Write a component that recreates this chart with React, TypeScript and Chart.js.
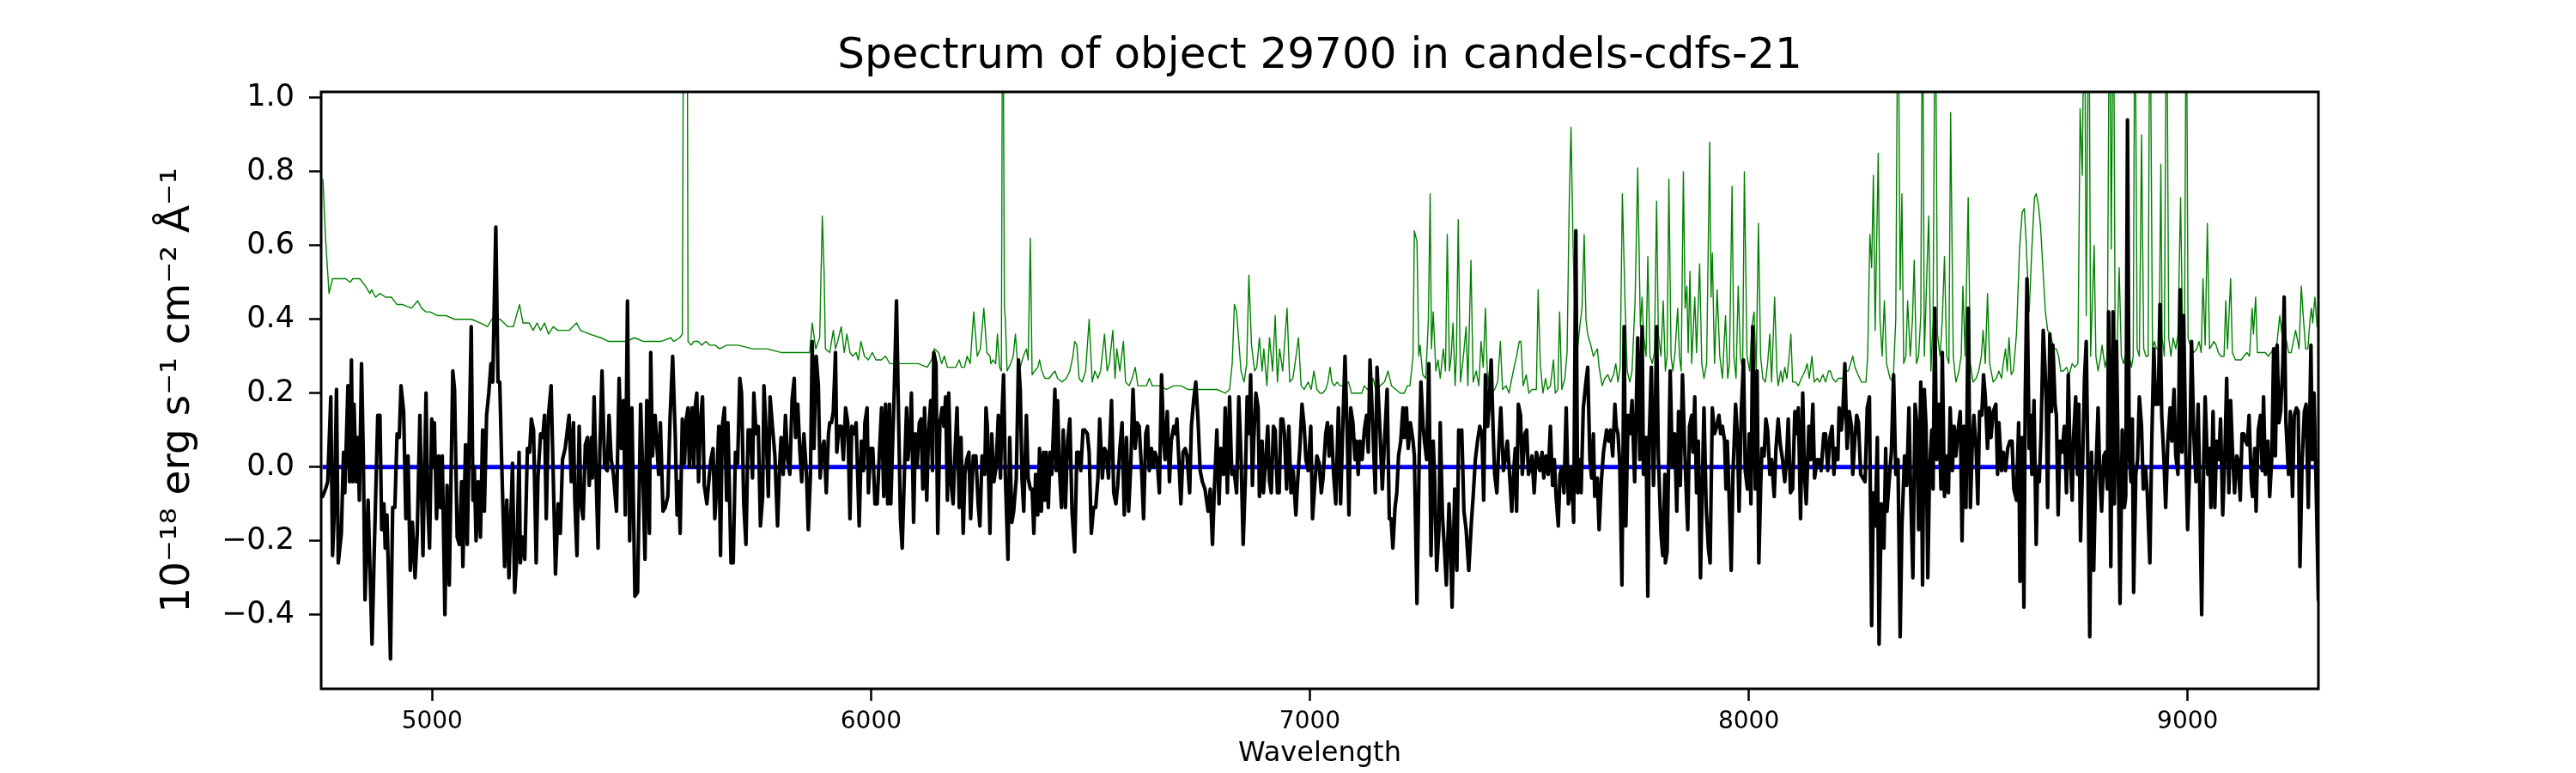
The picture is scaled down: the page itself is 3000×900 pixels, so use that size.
import { useEffect, useRef } from "react";
import Chart from "chart.js/auto";

const titleText = "Spectrum of object 29700 in candels-cdfs-21";
const xLabel = "Wavelength";
const yLabel = "10\u207B\u00B9\u2078 erg s\u207B\u00B9 cm\u207B\u00B2 \u00C5\u207B\u00B9";
const xTicks = [5000, 6000, 7000, 8000, 9000];
const yTicks = [-0.4, -0.2, 0.0, 0.2, 0.4, 0.6, 0.8, 1.0];

// observed flux [wavelength, flux]
const observed: [number, number][] = [
  [4750,-0.08],[4757,-0.06],[4762,-0.04],[4769,0.19],[4773,-0.24],[4777,-0.12],[4782,0.21],[4786,-0.26],[4793,-0.18],[4798,0.04],
  [4801,-0.07],[4808,0.22],[4812,-0.04],[4816,0.29],[4819,-0.04],[4822,0.17],[4827,-0.04],[4831,0.08],[4834,-0.09],[4839,0.28],
  [4843,0.04],[4847,-0.36],[4854,-0.09],[4863,-0.48],[4868,-0.23],[4876,0.14],[4881,0.14],[4885,-0.17],[4890,-0.10],[4893,-0.22],
  [4897,-0.13],[4905,-0.52],[4910,-0.11],[4915,-0.11],[4920,0.09],[4925,0.08],[4929,0.22],[4935,0.15],[4940,-0.14],[4945,0.03],
  [4950,-0.28],[4955,-0.15],[4961,-0.30],[4966,-0.18],[4972,0.14],[4979,-0.24],[4986,0.20],[4989,-0.07],[4994,-0.22],[4999,0.13],
  [5002,0.00],[5005,0.12],[5010,-0.14],[5015,0.03],[5019,-0.11],[5023,0.03],[5029,-0.40],[5034,-0.05],[5039,-0.32],[5047,0.26],
  [5051,0.21],[5057,-0.19],[5062,-0.21],[5067,-0.04],[5070,-0.27],[5076,0.06],[5080,-0.21],[5089,0.38],[5093,-0.09],[5096,0.00],
  [5100,-0.20],[5105,-0.04],[5110,-0.19],[5115,0.10],[5119,-0.12],[5124,0.14],[5129,0.20],[5134,0.28],[5138,0.23],[5145,0.65],
  [5150,0.23],[5154,0.23],[5158,0.03],[5165,-0.27],[5170,-0.09],[5175,-0.30],[5183,0.01],[5188,-0.34],[5193,-0.24],[5198,0.04],
  [5201,-0.26],[5206,-0.19],[5211,-0.25],[5217,0.05],[5222,0.04],[5226,0.13],[5231,0.10],[5237,-0.26],[5241,-0.03],[5247,0.09],
  [5252,0.08],[5256,0.14],[5260,-0.14],[5265,0.14],[5271,0.22],[5276,-0.03],[5281,-0.29],[5287,-0.10],[5292,-0.18],[5297,0.02],
  [5303,0.05],[5307,0.09],[5312,0.14],[5317,-0.04],[5322,0.12],[5325,-0.09],[5330,-0.24],[5335,0.11],[5339,-0.10],[5344,-0.14],
  [5349,0.06],[5354,0.08],[5358,-0.05],[5363,0.08],[5365,-0.03],[5369,0.19],[5374,-0.04],[5378,-0.22],[5382,0.04],[5387,0.26],
  [5393,0.00],[5399,-0.01],[5403,0.14],[5408,0.02],[5413,-0.02],[5420,-0.12],[5426,0.24],[5431,0.05],[5436,0.18],[5440,-0.13],
  [5445,0.45],[5450,-0.20],[5455,0.16],[5462,-0.35],[5468,-0.34],[5475,0.17],[5480,-0.02],[5485,-0.25],[5489,0.18],[5495,-0.18],
  [5498,0.31],[5502,0.03],[5508,0.14],
  [5516,-0.02],[5520,0.12],[5526,-0.12],[5531,-0.11],[5537,-0.08],[5542,0.13],[5548,0.30],[5554,0.08],[5558,-0.13],[5562,-0.04],
  [5565,-0.18],[5570,0.13],[5575,0.01],[5579,0.13],[5583,0.16],[5586,0.00],[5592,0.16],[5596,0.00],[5599,0.16],[5603,0.20],
  [5607,-0.04],[5611,0.12],[5616,0.19],[5620,-0.05],[5626,-0.10],[5631,-0.03],[5635,0.02],[5640,0.05],[5644,-0.14],[5648,-0.06],
  [5653,0.11],[5657,-0.24],[5661,0.11],[5666,0.16],[5671,-0.09],[5674,0.12],[5681,-0.26],[5686,-0.26],[5691,0.04],[5696,0.01],
  [5701,0.24],[5705,0.20],[5710,-0.10],[5715,-0.21],[5720,0.10],[5725,0.10],[5730,-0.03],[5733,0.20],[5738,0.09],[5743,0.11],
  [5748,-0.16],[5753,-0.08],[5756,0.22],[5761,0.09],[5766,-0.08],[5770,0.19],[5776,0.10],[5781,0.03],[5787,-0.16],[5792,0.01],
  [5795,0.08],[5800,-0.02],[5805,0.14],[5810,0.02],[5815,-0.02],[5820,0.18],[5825,0.24],[5828,0.08],[5833,0.17],[5838,0.04],
  [5842,-0.04],[5847,0.09],[5853,-0.02],[5857,-0.17],[5862,-0.02],[5866,0.34],[5870,0.05],[5875,0.30],[5880,0.22],[5884,-0.03],
  [5889,0.05],[5893,0.07],[5898,-0.07],[5903,0.09],[5906,0.12],[5910,0.12],[5914,0.15],[5919,0.31],[5922,0.04],[5927,0.11],
  [5932,0.11],[5937,0.02],[5942,0.16],[5947,0.12],[5952,-0.14],[5956,0.11],[5962,0.09],[5966,0.12],[5973,-0.16],[5978,0.07],
  [5983,-0.01],[5986,0.12],[5991,0.16],[5994,-0.07],[5999,0.05],[6004,0.05],[6009,-0.10],[6014,-0.10],[6018,0.01],[6024,0.16],
  [6029,-0.08],[6033,0.17],[6038,-0.10],[6042,0.17],[6045,-0.10],[6053,0.21],[6058,0.45],[6063,0.12],[6067,-0.14],[6071,-0.22],
  [6076,-0.02],[6081,0.16],[6084,0.02],[6089,0.09],[6092,0.20],[6097,-0.15],[6101,0.09],[6105,0.00],[6110,0.12],[6114,0.13],
  [6118,-0.06],[6122,0.16],[6127,-0.09],[6131,0.09],[6136,0.18],[6140,-0.01],[6143,0.31],[6148,0.28],[6152,-0.18],[6157,0.12],
  [6162,0.16],[6166,0.11],[6170,0.19],[6174,-0.09],[6177,0.20],[6182,-0.04],[6187,-0.10],[6191,0.03],[6196,0.16],[6201,-0.11],
  [6205,0.08],[6210,-0.18],[6214,-0.02],[6218,0.02],[6223,0.04],[6227,-0.14],[6233,0.03],[6239,0.03],[6244,-0.10],[6248,-0.16],
  [6253,0.03],[6259,-0.02],[6262,0.16],[6265,0.11],
  [6271,-0.18],[6275,0.09],[6280,-0.04],[6285,0.00],[6290,0.14],[6295,-0.03],[6298,0.13],[6302,0.25],[6306,-0.02],[6312,-0.25],
  [6316,0.08],[6321,-0.15],[6325,-0.12],[6331,-0.03],[6336,0.29],[6340,0.21],[6344,-0.03],[6348,-0.12],[6354,0.14],[6358,-0.03],
  [6363,-0.06],[6367,-0.06],[6371,-0.18],[6375,-0.02],[6380,-0.13],[6384,0.05],[6388,-0.12],[6393,0.04],[6396,-0.09],[6399,0.04],
  [6404,-0.11],[6408,0.04],[6412,-0.02],[6419,0.21],[6422,-0.01],[6425,0.18],[6429,0.00],[6434,-0.11],[6438,0.10],[6443,-0.11],
  [6448,0.07],[6453,0.13],[6458,-0.12],[6464,-0.23],[6469,0.04],[6473,0.04],[6478,-0.01],[6483,0.10],[6487,0.10],[6493,0.09],
  [6497,0.04],[6502,-0.18],[6507,-0.11],[6512,-0.11],[6517,-0.03],[6521,0.13],[6527,-0.03],[6532,0.05],[6536,0.04],[6541,-0.03],
  [6548,0.18],[6553,-0.07],[6558,-0.10],[6562,-0.05],[6567,0.05],[6572,0.12],[6577,-0.13],[6582,0.08],[6587,-0.12],[6592,0.01],
  [6597,0.21],[6602,0.05],[6606,0.12],[6611,0.11],[6617,-0.02],[6621,-0.14],[6626,0.09],[6630,0.11],[6634,-0.01],[6639,0.05],
  [6643,0.00],[6647,0.04],[6652,0.02],[6657,-0.07],[6662,0.25],[6667,0.07],[6670,0.02],[6675,0.15],[6680,-0.04],[6684,0.07],
  [6690,0.11],[6694,0.09],[6697,0.13],[6701,0.03],[6706,-0.10],[6711,0.04],[6716,0.05],[6720,0.03],[6726,-0.07],[6730,0.11],
  [6735,0.18],[6740,0.23],[6745,0.13],[6750,-0.01],[6755,-0.04],[6761,-0.06],[6768,-0.12],[6773,-0.06],[6778,-0.21],[6782,-0.07],
  [6788,0.10],[6793,-0.10],[6797,0.05],[6803,-0.02],[6807,0.16],[6812,-0.07],[6817,0.19],[6822,-0.02],[6827,-0.01],[6833,-0.07],
  [6838,0.19],[6843,0.03],[6848,-0.21],[6853,-0.03],[6857,0.19],[6861,0.09],[6865,0.25],[6869,-0.05],[6872,0.07],[6877,0.20],
  [6882,0.16],[6885,-0.08],[6891,0.07],[6894,-0.07],[6899,0.01],[6904,0.11],[6908,-0.04],[6912,-0.07],[6917,0.11],[6921,0.10],
  [6926,-0.07],[6930,-0.07],[6934,0.13],[6938,0.13],[6942,0.09],[6947,-0.06],[6952,0.11],[6957,-0.07],[6962,-0.01],[6968,-0.13],
  [6972,-0.04],[6977,0.05],[6982,0.17],[6987,0.11],[6991,0.02],[6996,-0.01],[7002,0.11],[7006,-0.14],[7011,-0.05],[7016,0.03],
  [7021,0.01],[7026,-0.07],[7030,-0.03],[7036,0.09],[7040,0.12],[7044,0.03],[7049,0.11],
  [7054,-0.02],[7059,-0.10],[7065,0.16],[7070,-0.10],[7075,0.11],[7080,0.30],[7085,0.09],[7089,-0.13],[7093,0.16],[7098,0.12],
  [7103,0.02],[7106,0.07],[7110,-0.02],[7114,0.07],[7119,0.02],[7124,0.10],[7129,0.14],[7133,0.04],[7137,0.29],[7144,0.09],
  [7149,-0.07],[7153,0.27],[7160,0.09],[7165,-0.06],[7170,0.07],[7176,0.21],[7181,-0.14],[7185,-0.14],[7189,-0.22],[7194,-0.11],
  [7198,-0.07],[7202,0.03],[7207,0.07],[7212,0.16],[7215,0.08],[7220,0.16],[7224,0.05],[7229,0.12],[7235,0.07],[7238,0.03],
  [7244,-0.37],[7249,0.02],[7253,0.23],[7258,0.11],[7261,0.07],[7266,0.02],[7271,0.28],[7276,-0.24],[7281,0.07],[7284,-0.02],
  [7289,-0.28],[7294,-0.17],[7297,0.12],[7302,-0.13],[7307,-0.23],[7311,-0.32],[7317,-0.10],[7320,-0.18],[7324,-0.38],[7330,-0.06],
  [7335,-0.28],[7339,0.10],[7343,0.07],[7346,0.10],[7351,-0.12],[7356,-0.17],[7362,-0.28],[7368,-0.15],[7372,-0.08],[7377,0.02],
  [7382,0.07],[7387,0.11],[7392,0.09],[7396,-0.09],[7400,0.25],[7405,0.11],[7409,0.18],[7413,0.29],[7418,0.08],[7421,-0.02],
  [7426,-0.07],[7431,0.07],[7435,0.16],[7441,-0.01],[7445,0.02],[7450,0.07],[7455,-0.02],[7460,-0.12],[7465,0.00],[7468,0.05],
  [7471,-0.12],[7475,0.17],[7480,0.14],[7484,-0.02],[7490,0.09],[7494,0.10],[7498,-0.02],[7503,0.00],[7506,0.03],[7511,-0.07],
  [7516,0.04],[7520,0.02],[7524,-0.01],[7529,0.04],[7533,-0.03],[7538,0.03],[7543,-0.02],[7548,0.11],[7553,-0.05],[7557,0.02],
  [7561,-0.08],[7566,-0.16],[7570,-0.02],[7574,0.00],[7579,-0.07],[7584,0.16],[7589,-0.10],[7593,-0.07],[7596,0.00],[7601,-0.15],
  [7606,0.64],[7610,-0.07],[7615,0.02],[7618,-0.07],[7623,0.16],[7629,0.23],[7633,0.27],[7638,0.02],[7642,-0.03],[7646,0.09],
  [7649,-0.08],[7655,-0.03],[7659,-0.17],[7664,-0.04],[7669,0.04],[7676,0.10],[7681,0.07],[7685,0.10],[7690,0.03],[7695,0.17],
  [7698,0.11],[7702,0.09],[7706,0.01],[7711,-0.32],[7716,0.38],[7720,-0.16],[7725,0.14],[7729,0.09],[7734,0.18],[7740,-0.04],
  [7744,0.18],[7747,0.35],[7752,0.02],[7757,0.38],[7760,-0.02],[7766,0.08],[7770,-0.35],[7773,0.07],[7778,0.27],[7783,-0.05],
  [7787,0.14],[7790,0.38],[7794,0.03],[7800,-0.18],[7804,-0.24],[7809,-0.02],
  [7810,-0.26],[7814,-0.23],[7821,0.26],[7826,0.00],[7831,0.09],[7836,-0.12],[7840,0.15],[7844,-0.05],[7849,0.25],[7853,0.09],
  [7857,-0.05],[7861,-0.17],[7865,0.11],[7870,0.14],[7873,0.04],[7877,0.19],[7881,-0.07],[7885,0.07],[7890,-0.30],[7894,-0.06],
  [7898,0.16],[7903,-0.11],[7908,-0.22],[7912,-0.26],[7917,0.16],[7922,0.09],[7927,0.11],[7932,0.14],[7936,0.09],[7940,0.11],
  [7945,0.07],[7948,-0.06],[7951,0.07],[7955,-0.07],[7960,-0.28],[7964,-0.02],[7970,0.17],[7974,0.09],[7978,-0.12],[7983,0.15],
  [7988,0.29],[7992,-0.01],[7997,-0.06],[8001,0.09],[8005,-0.10],[8009,0.38],[8015,-0.06],[8019,0.26],[8023,-0.26],[8027,-0.06],
  [8030,0.05],[8035,0.03],[8039,0.13],[8043,0.10],[8048,-0.02],[8052,0.02],[8058,-0.08],[8062,0.05],[8067,0.13],[8072,0.06],
  [8077,0.02],[8082,-0.04],[8086,0.02],[8090,0.13],[8095,-0.07],[8100,-0.06],[8105,0.15],[8109,0.09],[8113,0.16],[8118,-0.14],
  [8123,0.20],[8127,-0.02],[8131,-0.10],[8137,0.11],[8141,0.02],[8146,0.17],[8150,-0.03],[8156,0.02],[8160,0.02],[8165,-0.01],
  [8171,0.09],[8175,0.09],[8180,-0.01],[8185,0.08],[8190,0.11],[8194,-0.02],[8198,0.05],[8203,0.02],[8206,0.16],[8211,0.10],
  [8214,0.14],[8219,0.28],[8224,0.05],[8229,0.15],[8234,0.11],[8237,-0.02],[8242,0.08],[8246,0.14],[8250,0.12],[8255,-0.02],
  [8260,-0.03],[8265,-0.04],[8270,0.16],[8275,0.19],[8280,-0.43],[8284,-0.07],[8288,-0.16],[8293,0.08],[8297,-0.48],[8302,-0.10],
  [8308,-0.22],[8312,0.05],[8315,-0.12],[8321,-0.02],[8325,0.04],[8330,0.25],[8335,-0.02],[8340,0.02],[8345,-0.46],[8349,-0.16],
  [8355,0.03],[8360,-0.05],[8365,0.16],[8369,-0.07],[8374,-0.30],[8379,0.17],[8383,0.12],[8387,-0.17],[8392,0.23],[8396,-0.32],
  [8400,0.21],[8404,0.11],[8408,-0.30],[8412,-0.01],[8417,0.10],[8420,-0.06],[8424,0.43],[8428,0.02],[8433,0.17],[8438,-0.06],
  [8441,0.31],[8446,-0.08],[8451,0.03],[8455,-0.07],[8459,0.16],[8464,-0.01],[8468,0.11],[8472,0.03],[8477,0.10],[8482,0.15],
  [8486,-0.20],[8490,0.11],[8495,-0.11],[8500,0.43],[8505,-0.11],[8509,0.05],[8513,0.14],[8518,0.05],[8522,-0.10],[8526,0.15],
  [8531,0.14],[8535,0.25],[8539,0.19],[8544,0.05],[8548,0.16],[8552,0.08],[8557,0.15],
  [8563,0.17],[8567,-0.02],[8570,0.12],[8576,-0.01],[8580,0.04],[8585,-0.01],[8590,0.05],[8595,0.07],[8600,0.07],[8604,-0.06],
  [8610,-0.09],[8615,0.12],[8618,-0.31],[8623,0.08],[8627,-0.38],[8630,0.19],[8634,0.51],[8639,0.05],[8642,0.14],[8645,-0.02],
  [8650,0.18],[8655,-0.21],[8658,-0.01],[8662,-0.04],[8666,0.09],[8671,0.37],[8675,0.27],[8678,0.17],[8681,-0.11],[8686,0.36],
  [8690,0.15],[8693,0.33],[8698,0.17],[8701,0.14],[8705,-0.13],[8709,0.07],[8714,0.04],[8719,0.11],[8724,-0.07],[8728,0.25],
  [8732,0.04],[8737,-0.09],[8740,0.08],[8745,0.19],[8749,-0.02],[8752,0.17],[8756,-0.20],[8761,0.02],[8765,0.24],[8769,0.34],
  [8773,-0.02],[8777,-0.46],[8781,0.04],[8786,-0.28],[8790,-0.05],[8796,0.16],[8800,-0.03],[8804,-0.12],[8809,0.03],[8813,0.04],
  [8817,-0.06],[8820,0.42],[8825,-0.27],[8830,0.42],[8833,-0.10],[8838,0.34],[8843,-0.09],[8846,-0.37],[8851,0.10],[8856,-0.11],
  [8859,-0.08],[8863,0.94],[8867,0.03],[8871,-0.04],[8874,0.13],[8877,-0.34],[8882,-0.02],[8886,0.02],[8890,0.19],[8895,0.11],
  [8899,-0.06],[8904,0.00],[8908,-0.07],[8914,-0.26],[8918,0.05],[8923,0.32],[8927,0.17],[8933,0.17],[8937,0.44],[8941,0.14],
  [8946,0.02],[8950,-0.11],[8955,0.07],[8960,0.16],[8964,0.07],[8969,0.21],[8973,0.03],[8978,-0.02],[8983,0.48],[8987,0.04],
  [8991,0.41],[8996,0.03],[9000,-0.17],[9004,-0.02],[9009,0.34],[9014,0.09],[9019,-0.04],[9024,0.17],[9027,-0.02],[9032,-0.40],
  [9037,0.04],[9040,0.19],[9046,-0.02],[9050,0.05],[9053,-0.11],[9058,0.15],[9062,-0.11],[9066,0.07],[9071,0.02],[9075,0.13],
  [9080,-0.13],[9085,0.04],[9089,0.24],[9094,-0.07],[9098,0.18],[9102,0.05],[9107,-0.07],[9112,0.03],[9115,0.02],[9120,-0.09],
  [9124,0.09],[9128,0.09],[9132,0.07],[9136,0.06],[9140,0.14],[9145,-0.04],[9148,-0.08],[9153,0.05],[9156,-0.12],[9161,0.10],
  [9166,0.14],[9170,-0.01],[9173,0.19],[9177,-0.02],[9183,0.07],[9187,-0.08],[9192,0.03],[9196,0.32],[9200,0.03],[9204,0.33],
  [9208,0.12],[9212,0.15],[9217,0.28],[9220,0.46],[9224,0.12],[9230,-0.02],[9234,0.15],[9239,-0.08],[9243,0.14],[9248,0.16],
  [9252,0.15],[9256,-0.27],[9261,0.02],[9266,0.15],[9270,0.17],[9275,-0.11],[9281,0.33],[9284,0.02],[9288,0.20],[9293,-0.06],
  [9298,-0.36],
];

// model / sky spectrum [wavelength, flux]
const model: [number, number][] = [
  [4751,0.78],[4757,0.62],[4765,0.47],[4773,0.51],[4783,0.51],[4803,0.51],[4813,0.50],[4819,0.51],[4835,0.51],[4848,0.49],
  [4858,0.47],[4862,0.48],[4871,0.46],[4881,0.47],[4894,0.46],[4907,0.46],[4920,0.44],[4933,0.44],[4953,0.43],[4967,0.45],
  [4976,0.43],[4986,0.42],[4995,0.42],[5012,0.41],[5031,0.41],[5051,0.40],[5077,0.40],[5090,0.40],[5110,0.39],[5126,0.38],
  [5136,0.40],[5155,0.40],[5172,0.38],[5185,0.38],[5199,0.44],[5207,0.39],[5221,0.39],[5230,0.37],[5239,0.39],[5247,0.37],
  [5256,0.39],[5265,0.36],[5276,0.38],[5286,0.37],[5312,0.37],[5329,0.39],[5338,0.37],[5358,0.36],[5384,0.35],[5403,0.34],
  [5429,0.34],[5442,0.34],[5461,0.35],[5482,0.34],[5501,0.34],
  [5521,0.34],[5544,0.35],[5550,0.34],[5564,0.35],[5570,0.36],[5573,1.4],[5581,1.4],[5583,0.34],[5590,0.33],[5596,0.34],
  [5606,0.34],[5614,0.33],[5624,0.34],[5632,0.33],[5645,0.33],[5655,0.32],[5671,0.33],[5697,0.33],[5730,0.32],[5763,0.32],
  [5795,0.31],[5828,0.31],[5860,0.31],[5866,0.39],[5874,0.32],[5883,0.35],[5889,0.68],[5893,0.53],[5896,0.32],[5906,0.31],
  [5914,0.37],[5919,0.32],[5924,0.34],[5932,0.38],[5939,0.31],[5945,0.36],[5952,0.31],[5958,0.30],[5966,0.31],[5971,0.29],
  [5977,0.34],[5985,0.30],[5994,0.29],[6003,0.31],[6011,0.29],[6024,0.29],[6033,0.30],[6043,0.28],[6056,0.28],[6069,0.28],
  [6089,0.28],[6108,0.28],[6128,0.27],[6138,0.29],[6144,0.32],[6154,0.31],[6161,0.28],[6167,0.30],[6174,0.27],[6187,0.27],
  [6193,0.27],[6201,0.29],[6206,0.27],[6213,0.27],[6219,0.30],[6226,0.28],[6234,0.42],[6242,0.30],[6249,0.32],[6257,0.43],
  [6264,0.31],
  [6271,0.30],[6273,0.28],[6278,0.29],[6284,0.28],[6288,0.36],[6293,0.27],[6297,0.26],[6300,1.5],[6304,0.43],[6306,0.40],
  [6310,0.26],[6318,0.28],[6324,0.30],[6329,0.36],[6334,0.28],[6340,0.27],[6347,0.30],[6354,0.32],[6358,0.29],[6363,0.62],
  [6367,0.25],[6373,0.26],[6380,0.27],[6384,0.29],[6389,0.26],[6396,0.24],[6406,0.24],[6412,0.25],[6419,0.26],[6425,0.24],
  [6435,0.23],[6445,0.24],[6453,0.26],[6460,0.30],[6464,0.34],[6469,0.33],[6474,0.24],[6481,0.23],[6489,0.26],[6497,0.40],
  [6504,0.23],[6510,0.26],[6517,0.24],[6523,0.26],[6532,0.36],[6538,0.26],[6543,0.28],[6551,0.37],[6556,0.24],[6560,0.32],
  [6567,0.26],[6575,0.34],[6580,0.23],[6588,0.22],[6595,0.24],[6602,0.27],[6608,0.22],[6621,0.22],[6628,0.22],[6634,0.24],
  [6641,0.22],[6657,0.22],[6673,0.21],[6690,0.22],[6706,0.22],[6722,0.21],[6735,0.21],[6748,0.21],[6761,0.21],[6788,0.21],
  [6807,0.20],[6817,0.21],[6823,0.28],[6828,0.44],[6833,0.42],[6838,0.34],[6843,0.26],[6850,0.23],[6856,0.28],[6861,0.52],
  [6867,0.33],[6874,0.26],[6879,0.27],[6885,0.35],[6891,0.26],[6895,0.32],[6902,0.22],[6908,0.35],[6915,0.26],[6921,0.41],
  [6926,0.23],[6931,0.32],[6938,0.26],[6948,0.43],[6954,0.23],[6961,0.24],[6965,0.27],[6974,0.35],[6980,0.22],[6987,0.21],
  [6996,0.23],[7003,0.21],[7009,0.26],[7016,0.21],[7023,0.20],[7029,0.20],
  [7036,0.21],[7041,0.23],[7046,0.27],[7050,0.23],[7056,0.22],[7062,0.23],[7069,0.22],[7078,0.22],[7088,0.23],[7095,0.20],
  [7108,0.20],[7118,0.20],[7124,0.22],[7131,0.21],[7137,0.22],[7144,0.24],[7150,0.21],[7160,0.22],[7170,0.23],[7178,0.26],
  [7186,0.22],[7196,0.21],[7206,0.20],[7215,0.20],[7222,0.22],[7228,0.22],[7235,0.30],[7238,0.64],[7244,0.61],[7248,0.30],
  [7251,0.33],[7257,0.25],[7264,0.24],[7270,0.40],[7274,0.74],[7277,0.32],[7281,0.42],[7287,0.26],[7292,0.29],[7297,0.24],
  [7304,0.32],[7309,0.26],[7313,0.63],[7318,0.26],[7322,0.30],[7326,0.39],[7331,0.22],[7334,0.31],[7338,0.67],[7343,0.23],
  [7349,0.29],[7356,0.38],[7360,0.22],[7367,0.56],[7372,0.23],[7379,0.26],[7385,0.22],[7390,0.34],[7395,0.27],[7400,0.43],
  [7405,0.22],[7409,0.26],[7415,0.20],[7421,0.21],[7428,0.23],[7434,0.34],[7439,0.21],[7447,0.22],[7454,0.20],[7460,0.24],
  [7467,0.28],[7471,0.30],[7477,0.34],[7481,0.34],[7486,0.22],[7493,0.25],[7499,0.20],[7506,0.21],[7516,0.21],[7520,0.48],
  [7525,0.28],[7531,0.20],[7537,0.24],[7542,0.21],[7548,0.22],[7555,0.29],[7559,0.20],[7565,0.21],[7569,0.42],[7574,0.21],
  [7581,0.24],[7586,0.31],[7591,0.72],[7595,0.92],[7600,0.58],[7605,0.35],[7610,0.32],[7615,0.38],[7620,0.43],[7625,0.63],
  [7629,0.40],[7633,0.36],[7640,0.33],[7646,0.30],[7655,0.32],[7659,0.27],[7666,0.22],[7672,0.24],[7679,0.25],[7685,0.23],
  [7692,0.25],[7697,0.28],[7702,0.23],[7707,0.27],[7712,0.74],[7718,0.45],[7723,0.26],[7729,0.23],[7734,0.26],[7741,0.45],
  [7747,0.81],[7753,0.38],[7757,0.46],[7760,0.36],[7766,0.30],[7770,0.57],[7775,0.30],[7780,0.28],[7785,0.31],[7790,0.72],
  [7794,0.36],[7800,0.30],
  [7805,0.45],[7810,0.26],[7814,0.30],[7818,0.78],[7823,0.30],[7827,0.26],[7832,0.31],[7838,0.43],[7842,0.30],[7846,0.26],
  [7851,0.80],[7855,0.43],[7859,0.49],[7862,0.31],[7866,0.53],[7870,0.28],[7877,0.46],[7881,0.31],[7888,0.55],[7893,0.28],
  [7898,0.24],[7904,0.28],[7911,0.88],[7914,0.46],[7917,0.58],[7922,0.28],[7928,0.48],[7934,0.30],[7940,0.24],[7947,0.41],
  [7952,0.24],[7956,0.28],[7962,0.76],[7966,0.30],[7971,0.24],[7976,0.49],[7981,0.30],[7986,0.26],[7990,0.80],[7996,0.30],
  [8002,0.26],[8007,0.38],[8012,0.42],[8017,0.26],[8022,0.66],[8027,0.30],[8032,0.24],[8038,0.23],[8043,0.28],[8048,0.36],
  [8052,0.23],[8059,0.46],[8064,0.26],[8067,0.22],[8073,0.26],[8077,0.23],[8082,0.27],[8087,0.24],[8092,0.30],[8096,0.36],
  [8100,0.23],[8107,0.23],[8113,0.22],[8120,0.24],[8128,0.26],[8133,0.28],[8138,0.24],[8144,0.30],[8149,0.23],[8156,0.24],
  [8162,0.23],[8169,0.25],[8175,0.23],[8182,0.26],[8186,0.26],[8191,0.24],[8198,0.23],[8204,0.24],[8214,0.24],[8221,0.26],
  [8227,0.26],[8232,0.28],[8237,0.30],[8242,0.27],[8249,0.25],[8257,0.23],[8267,0.23],[8271,0.30],[8276,0.63],[8280,0.54],
  [8284,0.79],[8288,0.37],[8295,0.85],[8299,0.40],[8304,0.30],[8309,0.45],[8314,0.28],[8322,0.24],[8329,0.23],[8335,0.40],
  [8340,1.4],[8345,0.48],[8349,0.74],[8353,0.28],[8358,0.30],[8362,0.45],[8368,0.30],[8373,0.40],[8377,0.56],[8382,0.28],
  [8387,0.30],[8392,0.41],[8396,1.4],[8400,0.30],[8406,0.53],[8410,0.68],[8415,0.26],[8420,0.40],[8425,1.4],[8430,0.36],
  [8436,0.30],[8441,0.40],[8446,0.57],[8451,0.30],[8456,0.28],[8460,0.96],[8466,0.30],[8472,0.23],[8479,0.26],[8484,0.30],
  [8488,0.49],[8493,0.30],[8500,0.73],[8505,0.28],[8511,0.23],[8518,0.24],[8524,0.26],[8530,0.30],[8534,0.37],[8539,0.28],
  [8544,0.47],[8549,0.28],[8557,0.23],
  [8564,0.24],[8570,0.26],[8576,0.24],[8580,0.28],[8585,0.32],[8589,0.26],[8593,0.35],[8598,0.25],[8603,0.26],[8610,0.36],
  [8617,0.59],[8623,0.69],[8628,0.70],[8632,0.61],[8639,0.42],[8645,0.59],[8651,0.73],[8655,0.74],[8660,0.71],[8665,0.65],
  [8672,0.50],[8676,0.42],[8681,0.37],[8687,0.36],[8691,0.34],[8696,0.32],[8701,0.32],[8706,0.30],[8711,0.26],[8717,0.26],
  [8724,0.27],[8730,0.25],[8737,0.28],[8743,0.27],[8750,0.28],[8755,0.97],[8760,0.79],[8765,1.4],[8769,0.41],[8775,1.4],
  [8779,0.30],[8787,0.60],[8791,0.30],[8796,0.26],[8802,0.30],[8805,0.33],[8812,0.27],[8817,0.30],[8822,1.4],[8826,0.59],
  [8831,1.4],[8835,0.30],[8839,0.30],[8844,0.54],[8849,0.30],[8854,0.28],[8858,0.30],[8863,0.26],[8867,0.30],[8872,0.27],
  [8876,0.30],[8880,1.4],[8885,0.32],[8890,0.30],[8895,0.90],[8900,0.32],[8905,0.30],[8910,0.30],[8914,1.4],[8920,0.32],
  [8924,0.34],[8929,0.32],[8935,0.32],[8939,0.82],[8942,0.35],[8947,0.30],[8952,1.4],[8957,0.35],[8962,0.30],[8967,0.35],
  [8973,0.32],[8978,0.36],[8984,0.73],[8988,0.40],[8993,0.36],[8997,1.4],[9001,0.35],[9008,0.32],[9014,0.31],[9021,0.32],
  [9026,0.34],[9031,0.31],[9035,0.51],[9040,0.33],[9045,0.66],[9050,0.32],[9055,0.33],[9060,0.34],[9065,0.33],[9070,0.31],
  [9076,0.30],[9083,0.30],[9087,0.45],[9091,0.32],[9098,0.51],[9102,0.31],[9109,0.29],[9115,0.29],[9122,0.29],[9128,0.30],
  [9135,0.31],[9141,0.30],[9147,0.43],[9150,0.36],[9155,0.46],[9159,0.31],[9164,0.31],[9171,0.31],[9177,0.31],[9184,0.30],
  [9190,0.31],[9197,0.32],[9203,0.33],[9210,0.41],[9215,0.36],[9220,0.45],[9224,0.35],[9230,0.31],[9236,0.31],[9241,0.34],
  [9246,0.37],[9251,0.34],[9254,0.32],[9259,0.49],[9264,0.40],[9269,0.32],[9274,0.32],[9279,0.40],[9282,0.43],[9285,0.39],
  [9290,0.46],[9295,0.38],[9301,0.38],
];

// zero level
const zeroLevel: [number, number][] = [[4750, 0], [9300, 0]];

const FONT = "DejaVu Sans";

const toPoints = (rows: [number, number][]) => rows.map(([x, y]) => ({ x, y }));

// frame round the plot, and the title centred over the plot area
const framePlugin = {
  id: "frame",
  afterDatasetsDraw(chart: Chart) {
    const { ctx, chartArea } = chart;
    ctx.save();
    ctx.strokeStyle = "#000";
    ctx.lineWidth = 3;
    ctx.strokeRect(chartArea.left, chartArea.top, chartArea.right - chartArea.left, chartArea.bottom - chartArea.top);
    ctx.restore();
  },
  afterDraw(chart: Chart) {
    const { ctx, chartArea } = chart;
    ctx.save();
    ctx.fillStyle = "#000";
    ctx.font = `50px "${FONT}"`;
    ctx.textAlign = "center";
    ctx.textBaseline = "middle";
    ctx.fillText(titleText, (chartArea.left + chartArea.right) / 2, 66);
    ctx.restore();
  },
};

const formatY = (v: number) => (v < 0 ? "\u2212" + Math.abs(v).toFixed(1) : v.toFixed(1));

export default function App() {
  const canvasRef = useRef<HTMLCanvasElement | null>(null);

  useEffect(() => {
    if (!canvasRef.current) return;
    const chart = new Chart(canvasRef.current, {
      type: "line",
      data: {
        datasets: [
          {
            label: "flux",
            data: toPoints(observed),
            borderColor: "#000000",
            borderWidth: 4.2,
            borderJoinStyle: "round",
            borderCapStyle: "round",
            pointRadius: 0,
            tension: 0,
          },
          {
            label: "zero",
            data: toPoints(zeroLevel),
            borderColor: "#0000ff",
            borderWidth: 5,
            pointRadius: 0,
            tension: 0,
          },
          {
            label: "model",
            data: toPoints(model),
            borderColor: "#008000",
            borderWidth: 1.4,
            borderJoinStyle: "round",
            pointRadius: 0,
            tension: 0,
          },
        ],
      },
      options: {
        animation: false,
        responsive: true,
        maintainAspectRatio: false,
        devicePixelRatio: 1,
        layout: { padding: { left: 0, right: 300, top: 107, bottom: 0 } },
        plugins: {
          legend: { display: false },
          tooltip: { enabled: false },
          title: { display: false },
        },
        scales: {
          x: {
            type: "linear",
            min: 4747,
            max: 9298,
            afterBuildTicks: (scale) => {
              scale.ticks = xTicks.map((value) => ({ value }));
            },
            afterFit: (scale) => {
              scale.height = 98;
            },
            ticks: {
              color: "#000",
              font: { family: FONT, size: 28 },
              padding: 8,
              maxRotation: 0,
              autoSkip: false,
              callback: (v) => String(v),
            },
            grid: { drawOnChartArea: false, drawTicks: true, tickLength: 14, tickWidth: 2.5, tickColor: "#000" },
            border: { display: false },
            title: {
              display: true,
              text: xLabel,
              color: "#000",
              font: { family: FONT, size: 32 },
              padding: { top: 0, bottom: 3 },
            },
          },
          y: {
            type: "linear",
            min: -0.601,
            max: 1.016,
            afterBuildTicks: (scale) => {
              scale.ticks = yTicks.map((value) => ({ value }));
            },
            afterFit: (scale) => {
              scale.width = 374;
            },
            ticks: {
              color: "#000",
              font: { family: FONT, size: 35 },
              padding: 17,
              autoSkip: false,
              callback: (v) => formatY(Number(v)),
            },
            grid: { drawOnChartArea: false, drawTicks: true, tickLength: 14, tickWidth: 2.5, tickColor: "#000" },
            border: { display: false },
            title: {
              display: true,
              text: yLabel,
              color: "#000",
              font: { family: FONT, size: 47 },
              padding: { top: 180, bottom: 0 },
            },
          },
        },
      },
      plugins: [framePlugin],
    });

    return () => {
      chart.destroy();
    };
  }, []);

  return (
    <div style={{ position: "absolute", left: 0, top: 0, width: 3000, height: 900, background: "#fff" }}>
      <canvas ref={canvasRef} />
    </div>
  );
}
